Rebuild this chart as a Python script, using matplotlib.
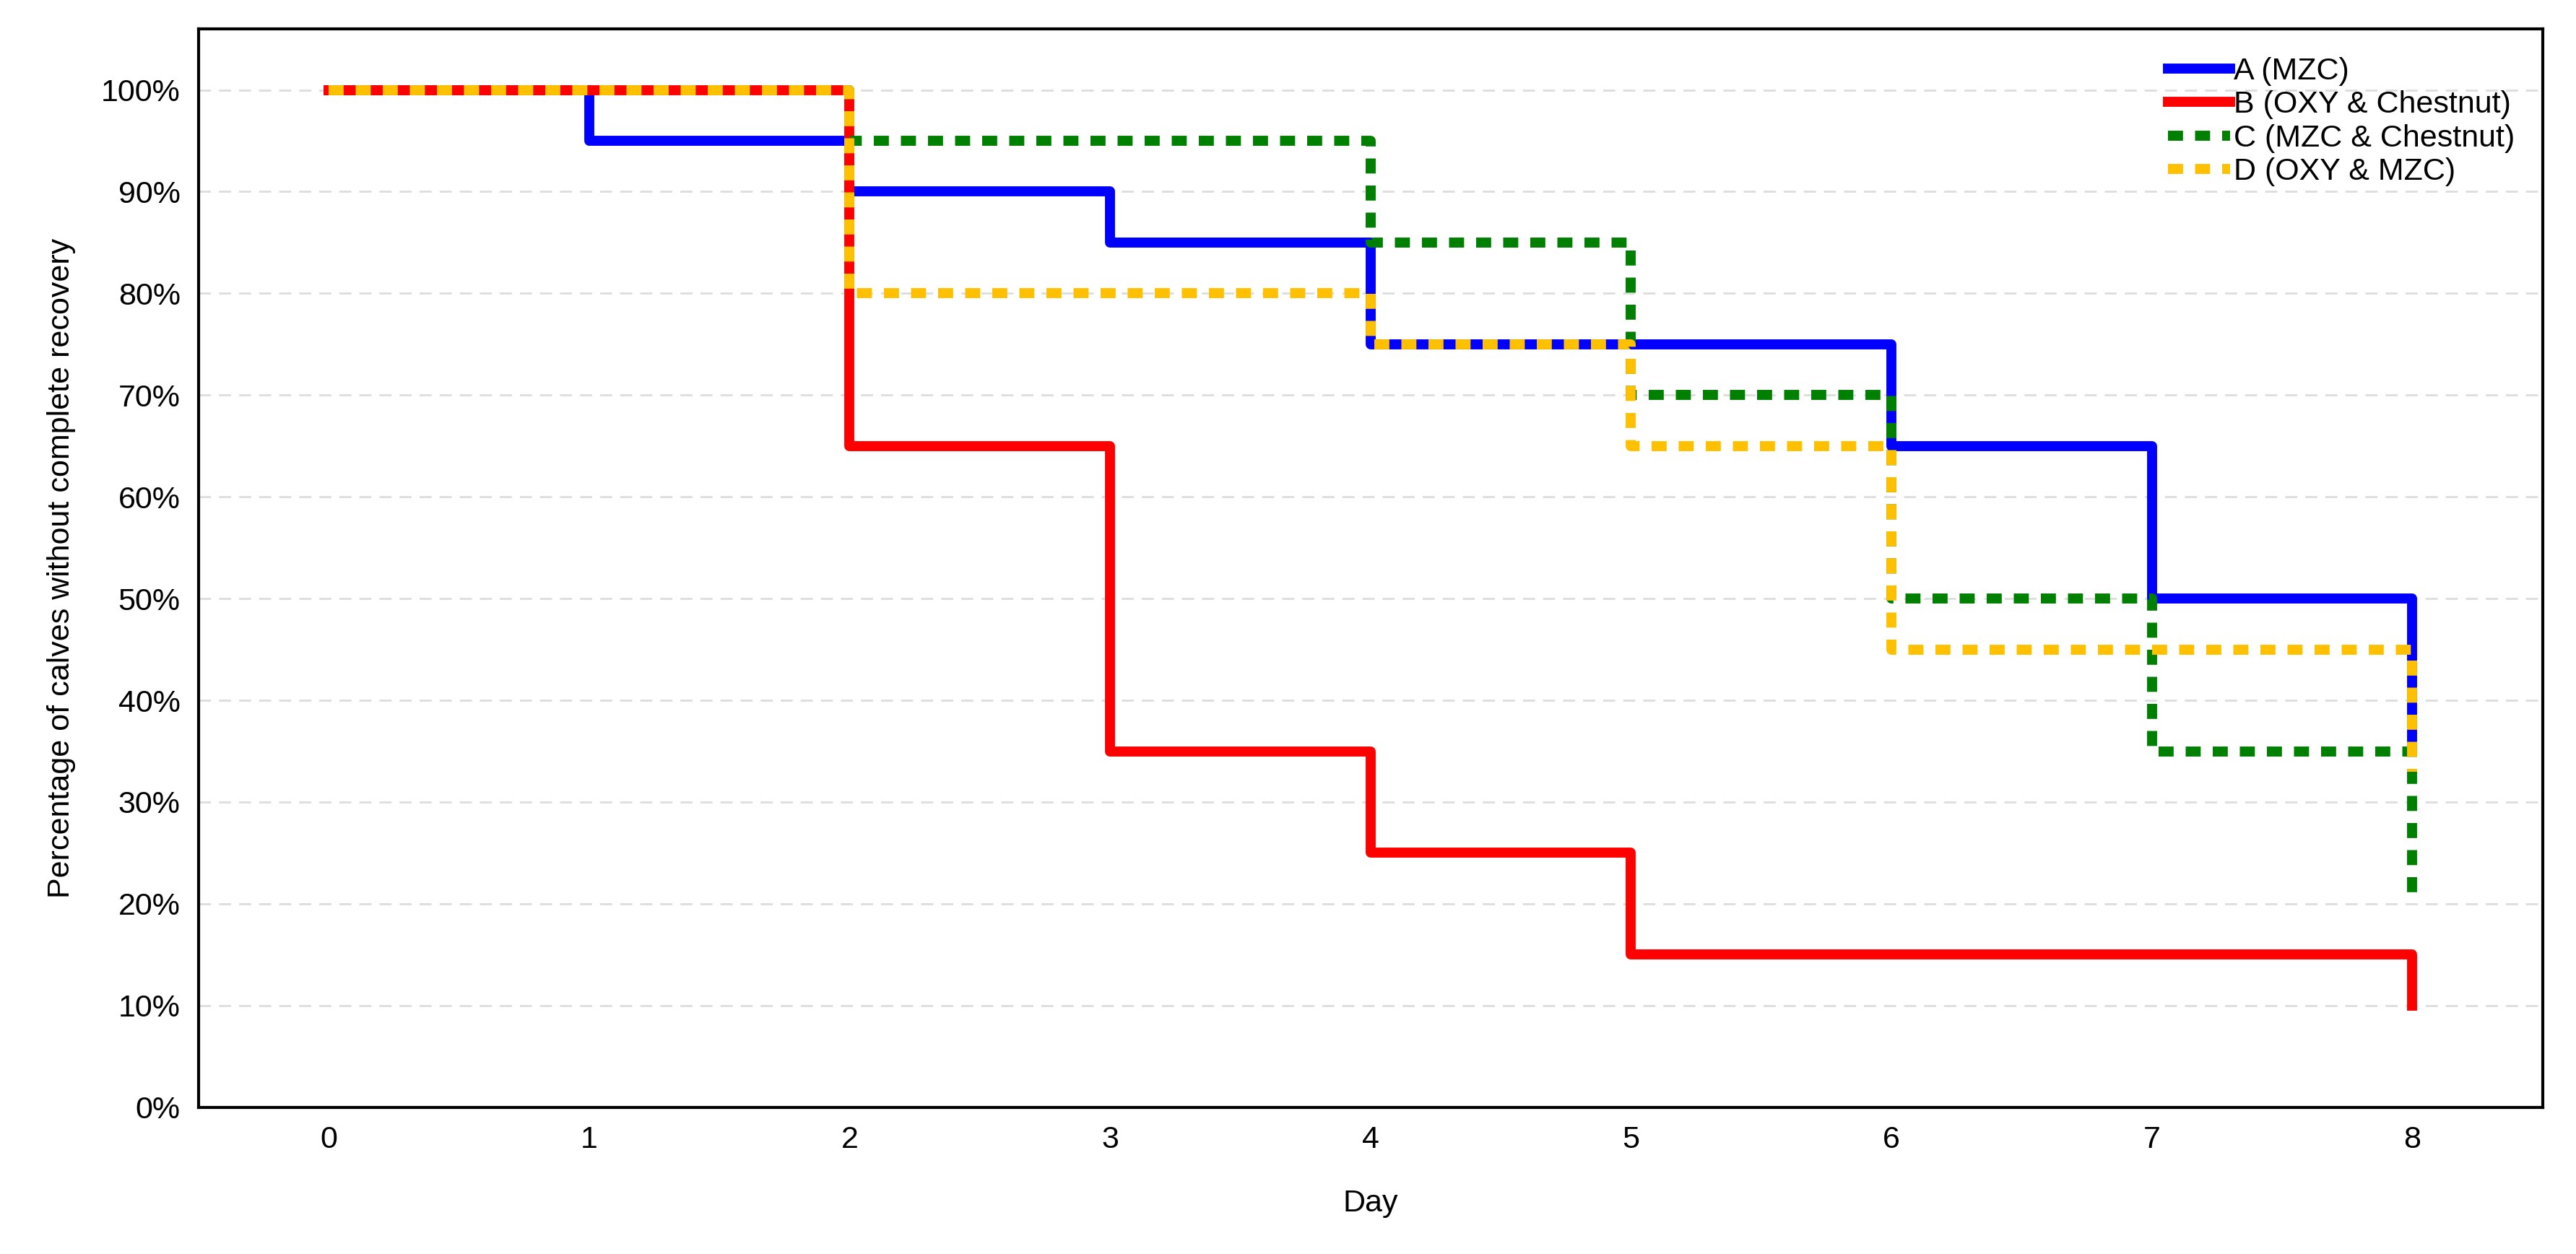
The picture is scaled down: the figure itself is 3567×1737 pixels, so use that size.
import matplotlib
matplotlib.use("Agg")
import matplotlib.pyplot as plt
from matplotlib.ticker import PercentFormatter

days = [0, 1, 2, 3, 4, 5, 6, 7, 8]
group_a = [100, 95, 90, 85, 75, 75, 65, 50, 35]
group_b = [100, 100, 65, 35, 25, 15, 15, 15, 10]
group_c = [100, 100, 95, 95, 85, 70, 50, 35, 21]
group_d = [100, 100, 80, 80, 75, 65, 45, 45, 33]
labels = ["A (MZC)", "B (OXY & Chestnut)", "C (MZC & Chestnut)", "D (OXY & MZC)"]

plt.rcParams["font.family"] = ["Liberation Sans", "DejaVu Sans"]
fig = plt.figure(figsize=(35.67, 17.37), dpi=100)
ax = fig.add_axes([0.077, 0.117, 0.91, 0.86])

lw = 10
ax.plot(days, group_a, drawstyle="steps-post", color="#0000ff", lw=lw, label=labels[0], zorder=2)
ax.plot(days, group_b, drawstyle="steps-post", color="#ff0000", lw=lw, label=labels[1], zorder=3)
ax.plot(days, group_c, drawstyle="steps-post", color="#008000", lw=lw, ls=(0, (1.5, 1.2)), label=labels[2], zorder=4)
ax.plot(days, group_d, drawstyle="steps-post", color="#ffc000", lw=lw, ls=(0, (1.5, 1.2)), label=labels[3], zorder=5)

ax.set_xlim(-0.5, 8.5)
ax.set_ylim(0, 106)
ax.set_xticks(days)
ax.set_yticks(range(0, 101, 10))
ax.yaxis.set_major_formatter(PercentFormatter(decimals=0))
ax.grid(axis="y", color="#dddddd", ls=(0, (6, 4)), lw=2)
ax.tick_params(labelsize=31, length=0, pad=18)
for s in ax.spines.values():
    s.set_linewidth(3)
ax.set_xlabel("Day", fontsize=31, labelpad=35)
ax.set_ylabel("Percentage of calves without complete recovery", fontsize=31, labelpad=25)
ax.legend(loc="upper right", frameon=False, fontsize=31, handlelength=2.0,
          handletextpad=0.1, labelspacing=0.15, borderaxespad=0.5)

fig.savefig("out.png")
